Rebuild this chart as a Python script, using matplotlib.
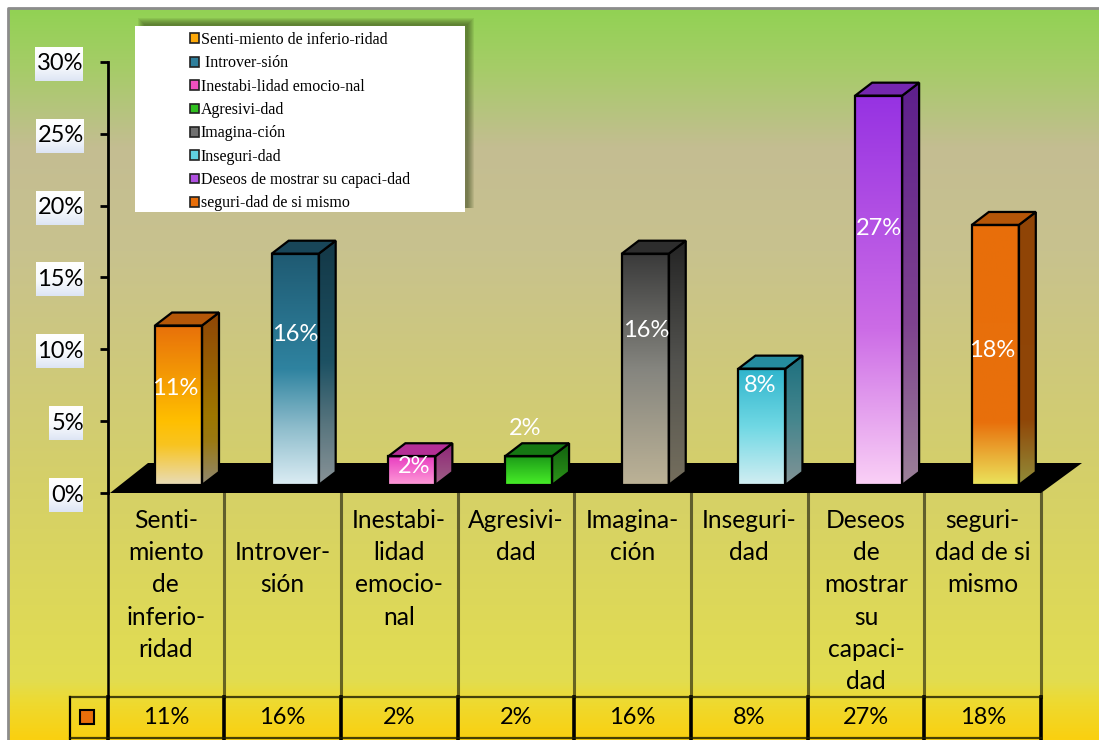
import numpy as np
import matplotlib
matplotlib.use("Agg")
import matplotlib.pyplot as plt
from matplotlib.colors import to_rgb
from matplotlib.patches import Polygon, Rectangle

categories = ["Senti-\nmiento\nde\ninferio-\nridad", "\nIntrover-\nsión", "Inestabi-\nlidad\nemocio-\nnal",
              "Agresivi-\ndad", "Imagina-\nción", "Inseguri-\ndad",
              "Deseos\nde\nmostrar\nsu\ncapaci-\ndad", "seguri-\ndad de si\nmismo"]
legend_names = ["Senti-miento de inferio-ridad", " Introver-sión", "Inestabi-lidad emocio-nal", "Agresivi-dad",
                "Imagina-ción", "Inseguri-dad", "Deseos de mostrar su capaci-dad", "seguri-dad de si mismo"]
values = [11.1, 16.1, 2.0, 2.0, 16.1, 8.1, 27.1, 18.1]
value_labels = ["11%", "16%", "2%", "2%", "16%", "8%", "27%", "18%"]
y_ticks = [0, 5, 10, 15, 20, 25, 30]
y_tick_labels = ["0%", "5%", "10%", "15%", "20%", "25%", "30%"]

# gradient stops of every bar, from top to bottom
bar_stops = [
    [(0, "#e8700a"), (0.6, "#ffbf00"), (0.75, "#f8c420"), (1, "#e8dcb8")],
    [(0, "#1f5a72"), (0.5, "#2f83a0"), (0.75, "#8dbccb"), (1, "#dcedf4")],
    [(0, "#e83cc0"), (1, "#ff9cd8")],
    [(0, "#1c9a18"), (1, "#48f028")],
    [(0, "#3a3a3a"), (0.5, "#85857f"), (1, "#bcb296")],
    [(0, "#2fb4cc"), (0.5, "#70d8e4"), (1, "#d2eef2")],
    [(0, "#9632e2"), (0.6, "#cc6ce6"), (1, "#fad0f6")],
    [(0, "#e86e0a"), (0.76, "#e8700c"), (1, "#ebe45c")],
]
legend_colors = ["#fda90a", "#2f7f9c", "#f050c0", "#30c020", "#707070", "#60d0e0", "#b050e0", "#e86e0a"]
# where the value labels sit: axis percent and pixels off the bar centre
label_y = [7.25, 11.0, 1.85, 4.5, 11.3, 7.5, 18.4, 9.95]
label_dx = [-3.5, 0, 2, -3.5, 0.5, -1.5, 0, -3.5]

bg_stops = [(0, "#92d254"), (0.08, "#a6cc68"), (0.19, "#c4bd92"), (0.33, "#c8c28e"),
            (0.65, "#d5d068"), (0.92, "#e2dd50"), (0.95, "#eeda30"), (1, "#fad010")]
box_stops = [(0, "#ffffff"), (0.55, "#f8fafd"), (1, "#dde5f4")]

W, H = 1099, 740
AX_L, AX_R, AX_TOP, AX_BOT = 107.5, 1041, 62, 493
PX_Y = (AX_BOT - AX_TOP) / 30
PX_X = (AX_R - AX_L) / 8


def ramp(stops, n=256):
    t = np.linspace(0, 1, n)
    pos = [s[0] for s in stops]
    cols = np.array([to_rgb(s[1]) for s in stops])
    return np.stack([np.interp(t, pos, cols[:, k]) for k in range(3)], axis=1)[:, None, :]


plt.rcParams["font.family"] = ["Lato", "DejaVu Sans"]
fig = plt.figure(figsize=(W / 100, H / 100), dpi=100, facecolor="white")

# page layer in pixel coordinates
bg = fig.add_axes([0, 0, 1, 1], zorder=0)
bg.set_xlim(0, W)
bg.set_ylim(H, 0)
bg.axis("off")
bg.imshow(ramp(bg_stops), extent=(9, W, H, 9), aspect="auto", zorder=0)
bg.plot([8, 8, W], [H, 8, 8], color="#8c8c8c", lw=2, zorder=1)
bg.set_xlim(0, W)
bg.set_ylim(H, 0)

# legend box with soft shadow
for g in range(7):
    bg.add_patch(Rectangle((144 - g, 24 - g), 324 + 2 * g, 184 + g, fc="#2a3a10", ec="none", alpha=0.09, zorder=2))
bg.add_patch(Rectangle((135, 26), 330, 186, fc="white", ec="none", zorder=3))

# table
for i in range(9):
    x = AX_L + i * PX_X
    if i > 0:
        bg.plot([x, x], [493, 697], color="#000000", alpha=0.55, lw=2.2, zorder=2)
    bg.plot([x, x], [697, H], color="black", lw=2.6, zorder=2)
bg.plot([70, 70], [697, H], color="black", lw=1.6, zorder=2)
bg.plot([70, AX_R], [697, 697], color="#1c1c00", alpha=0.8, lw=1.6, zorder=2)
bg.plot([70, AX_R], [738, 738], color="#1c1c00", alpha=0.8, lw=1.6, zorder=2)
bg.plot([AX_L, AX_L], [493, 697], color="black", lw=1.8, zorder=2)
bg.add_patch(Rectangle((80, 710), 14, 14, fc="#e86e0a", ec="black", lw=1.5, zorder=3))

# chart layer
ax = fig.add_axes([AX_L / W, 1 - AX_BOT / H, (AX_R - AX_L) / W, (AX_BOT - AX_TOP) / H], zorder=1)
ax.patch.set_alpha(0)
for s in ["top", "right", "bottom"]:
    ax.spines[s].set_visible(False)
ax.spines["left"].set_linewidth(2)

bar_w = 47 / PX_X
bar_off = 47.5 / PX_X
dx = 17 / PX_X
dy = 13 / PX_Y
base = 8 / PX_Y

# black floor
ax.add_patch(Polygon([(2.5 / PX_X, 0), (40.5 / PX_X, 30 / PX_Y), (974.5 / PX_X, 30 / PX_Y), (8, 0)],
                     closed=True, fc="black", ec="none", clip_on=False, zorder=1))

for i, v in enumerate(values):
    x0 = i + bar_off
    x1 = x0 + bar_w
    y0 = base
    y1 = base + v
    stops = ramp(bar_stops[i])
    # side face
    side = Polygon([(x1, y0), (x1 + dx, y0 + dy), (x1 + dx, y1 + dy), (x1, y1)], closed=True, fc="none", ec="black", lw=1.6, zorder=3)
    ax.add_patch(side)
    im = ax.imshow(stops * 0.62, extent=(x1, x1 + dx, y0, y1 + dy), aspect="auto", zorder=2)
    im.set_clip_path(side)
    # top face
    ax.add_patch(Polygon([(x0, y1), (x0 + dx, y1 + dy), (x1 + dx, y1 + dy), (x1, y1)], closed=True,
                         fc=tuple(stops[0, 0] * 0.78), ec="black", lw=1.6, zorder=3))
    # front face
    ax.imshow(stops, extent=(x0, x1, y0, y1), aspect="auto", zorder=2)
    ax.add_patch(Rectangle((x0, y0), bar_w, v, fc="none", ec="black", lw=1.6, zorder=3))
    ax.text(x0 + bar_w / 2 + label_dx[i] / PX_X, label_y[i], value_labels[i], color="white", fontsize=17, ha="center", va="center", zorder=4)
    ax.text(i + 0.5, -(717 - AX_BOT) / PX_Y, value_labels[i], color="black", fontsize=17, ha="center", va="center", clip_on=False, zorder=4)

ax.set_xlim(0, 8)
ax.set_ylim(0, 30)
ax.set_yticks(y_ticks)
ax.set_yticklabels(y_tick_labels, fontsize=17)
ax.tick_params(axis="y", length=6, width=2, pad=11, color="black")
ax.set_xticks(np.arange(8) + 0.5)
ax.set_xticklabels(categories, fontsize=17.7, linespacing=1.49, va="top")
ax.tick_params(axis="x", length=0, pad=11.3)

handles = [Rectangle((0, 0), 1, 1, fc=c, ec="#222222", lw=1.2) for c in legend_colors]
ax.legend(handles, legend_names, loc="upper left", bbox_to_anchor=(186 / W, 1 - 28 / H), bbox_transform=fig.transFigure,
          frameon=False, prop={"family": "Liberation Serif", "size": 11.5}, labelspacing=0.46, handlelength=0.56, handleheight=0.56,
          handletextpad=0.12, borderpad=0.25, borderaxespad=0)

# gradient boxes behind the tick labels
fig.canvas.draw()
rend = fig.canvas.get_renderer()
for lab in ax.get_yticklabels():
    e = lab.get_window_extent(rend)
    yc = H - (e.y0 + e.y1) / 2
    bg.imshow(ramp(box_stops), extent=(e.x0 - 2, e.x1 - 1, yc + 17, yc - 17), aspect="auto", zorder=2)
bg.set_xlim(0, W)
bg.set_ylim(H, 0)

fig.savefig("out.png", dpi=100)
